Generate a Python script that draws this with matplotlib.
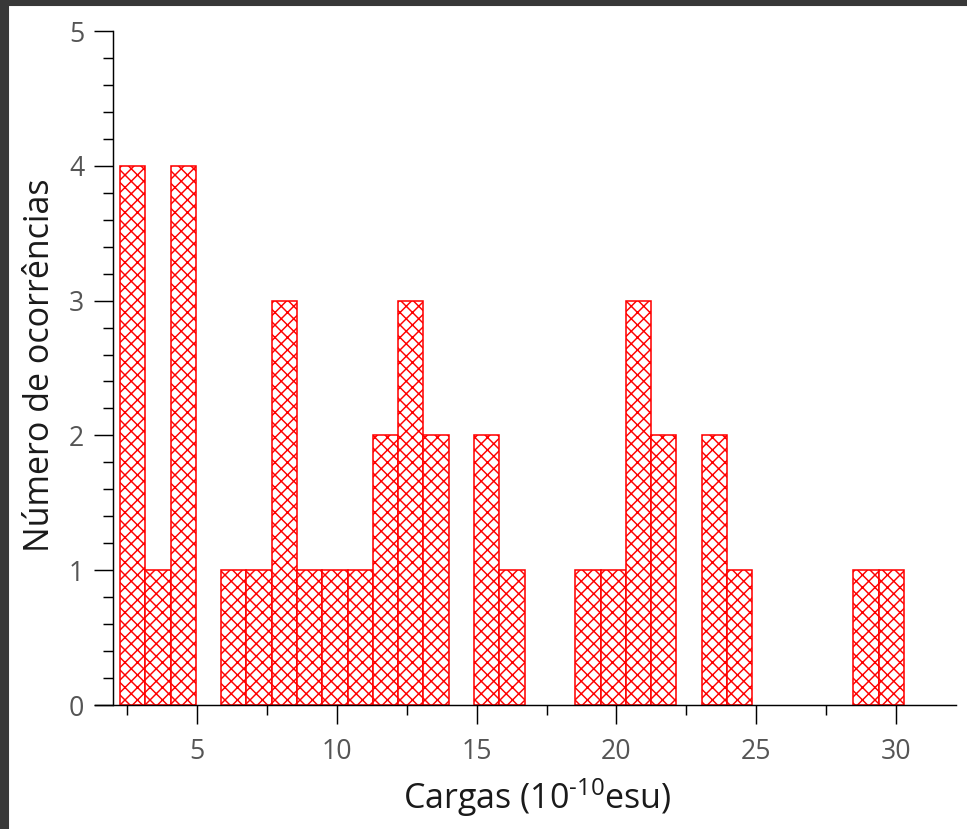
import numpy as np
import matplotlib
matplotlib.use("Agg")
import matplotlib.pyplot as plt
from matplotlib.patches import Rectangle
from matplotlib.ticker import MultipleLocator

# histogram counts, one per bin
counts = [4, 1, 4, 0, 1, 1, 3, 1, 1, 1, 2, 3, 2, 0, 2, 1, 0, 0,
          1, 1, 3, 2, 0, 2, 1, 0, 0, 0, 0, 1, 1]
bin_lo, bin_hi = 2.233, 30.29
x_ticks = [5, 10, 15, 20, 25, 30]
y_ticks = [0, 1, 2, 3, 4, 5]

plt.rcParams["font.family"] = ["Open Sans", "DejaVu Sans"]
plt.rcParams["hatch.linewidth"] = 0.7
plt.rcParams["mathtext.fontset"] = "custom"
plt.rcParams["mathtext.rm"] = "Open Sans"

DPI = 150
fig = plt.figure(figsize=(967 / DPI, 829 / DPI), dpi=DPI)
ax = fig.add_axes([95 / 967, 1 - 705 / 829, (956 - 95) / 967, (705 - 31) / 829])

edges = np.linspace(bin_lo, bin_hi, len(counts) + 1)
counts = np.array(counts)
nz = counts > 0
ax.bar(edges[:-1][nz], counts[nz], width=np.diff(edges)[nz], align="edge",
       facecolor="white", edgecolor="red", linewidth=0.75, hatch="xxxx")

ax.set_xlim(1.34, 32.15)
ax.set_ylim(0, 5)
ax.spines["left"].set_position(("data", 2.0))
ax.spines["top"].set_visible(False)
ax.spines["right"].set_visible(False)
for s in ("left", "bottom"):
    ax.spines[s].set_linewidth(0.7)

ax.set_xticks(x_ticks)
ax.set_yticks(y_ticks)
ax.xaxis.set_minor_locator(MultipleLocator(2.5))
ax.yaxis.set_minor_locator(MultipleLocator(0.2))
ax.tick_params(which="major", length=9, width=0.7, labelsize=12.8,
               labelcolor="#555555")
ax.tick_params(axis="x", which="major", pad=7)
ax.tick_params(axis="y", which="major", pad=5)
ax.tick_params(which="minor", length=5, width=0.7)

ax.set_xlabel(r"Cargas (10$^{\text{-10}}$esu)", fontsize=16.3, color="#1a1a1a")
ax.set_ylabel("Número de ocorrências", fontsize=16.3, color="#1a1a1a")
ax.xaxis.set_label_coords(0.514, -0.105)
ax.yaxis.set_label_coords(-0.044, 0.504)

# dark window frame at top and left
fig.patches.append(Rectangle((0, 1 - 5 / 829), 1, 5 / 829, transform=fig.transFigure,
                             color="#383838", zorder=10))
fig.patches.append(Rectangle((0, 0), 8 / 967, 1, transform=fig.transFigure,
                             color="#383838", zorder=10))

fig.savefig("out.png", dpi=DPI)
